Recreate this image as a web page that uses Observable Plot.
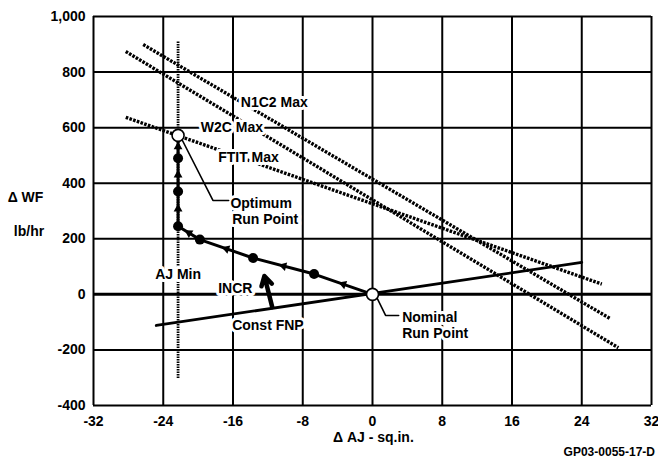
<!DOCTYPE html>
<html><head><meta charset="utf-8">
<script src="https://cdn.jsdelivr.net/npm/d3@7"></script>
<script src="https://cdn.jsdelivr.net/npm/@observablehq/plot@0.6"></script>
<style>
html,body{margin:0;padding:0;background:#fff;}
#chart{width:658px;height:460px;}
</style></head><body><div id="chart"></div>
<script>
// ---- data ----
const xTicks = [-32, -24, -16, -8, 0, 8, 16, 24, 32];
const yTicks = [-400, -200, 0, 200, 400, 600, 800, 1000];

// optimisation path, nominal -> optimum  (ΔAJ sq.in., ΔWF lb/hr)
const pathAJ = [0, -6.7, -13.7, -19.8, -22.3, -22.3, -22.3, -22.3];
const pathWF = [0, 73, 131, 197, 245, 370, 490, 572];

// limit lines (end points)
const limitNames = ["N1C2 Max", "W2C Max", "FTIT Max"];
const limitAJ = [[-26.3, 27.3], [-28.3, 28.2], [-28.3, 26.3]];
const limitWF = [[899, -88], [874, -192], [637, 37]];

// constant FNP line
const fnpAJ = [-24.8, 24];
const fnpWF = [-112, 115];

// AJ minimum line
const ajMinAJ = [-22.3, -22.3];
const ajMinWF = [910, -305];

// INCR arrow
const incrAJ = [-11.5, -12.4];
const incrWF = [-46, 66];

// annotation texts and anchors (data units)
const noteText = ["N1C2 Max", "W2C Max", "FTIT Max", "Optimum", "Run Point", "INCR", "Const FNP", "Nominal", "Run Point"];
const noteAJ   = [-15.1, -19.7, -17.7, -16.3, -16.1, -17.7, -16.1, 3.4, 3.4];
const noteWF   = [690, 600, 493, 327, 269, 20, -112, -83, -141];
const ajMinLabel = {text: "AJ Min", x: -22.3, y: 71};

// leader lines
const optLeaderAJ = [-21.9, -18.3, -16.5];
const optLeaderWF = [560, 338, 338];
const nomLeaderAJ = [0.5, 1.5, 3.0];
const nomLeaderWF = [-12, -76, -76];

const xTitle = "Δ AJ - sq.in.";
const yTitle1 = "Δ WF";
const yTitle2 = "lb/hr";
const caption = "GP03-0055-17-D";

// ---- derived tables ----
const path = pathAJ.map((x, i) => ({x, y: pathWF[i]}));
const W = 658, H = 460, ML = 93, MR = 7, MT = 16, MB = 55;
const kx = (W - ML - MR) / 64, ky = (H - MT - MB) / 1400;
const mids = path.slice(1).map((p, i) => {
  const a = path[i];
  const dx = p.x - a.x, dy = p.y - a.y;
  return {x: (a.x + p.x) / 2, y: (a.y + p.y) / 2,
          angle: Math.atan2(dx * kx, dy * ky) * 180 / Math.PI};
});
const limits = limitNames.flatMap((n, i) => [0, 1].map(j => ({name: n, x: limitAJ[i][j], y: limitWF[i][j]})));
const fnp = fnpAJ.map((x, i) => ({x, y: fnpWF[i]}));
const ajMin = ajMinAJ.map((x, i) => ({x, y: ajMinWF[i]}));
const notes = noteText.map((t, i) => ({text: t, x: noteAJ[i], y: noteWF[i]}));
const optLeader = optLeaderAJ.map((x, i) => ({x, y: optLeaderWF[i]}));
const nomLeader = nomLeaderAJ.map((x, i) => ({x, y: nomLeaderWF[i]}));

const plot = Plot.plot({
  width: W, height: H,
  marginLeft: ML, marginRight: MR, marginTop: MT, marginBottom: MB,
  style: {fontFamily: "'Liberation Sans', Arial, sans-serif", fontSize: "14px", fontWeight: "bold", color: "black", background: "white", overflow: "visible"},
  x: {domain: [-32, 32], ticks: xTicks, tickFormat: d => String(d), tickSize: 0, tickPadding: 11, label: null},
  y: {domain: [-400, 1000], ticks: yTicks, tickFormat: d => d.toLocaleString("en-US"), tickSize: 0, tickPadding: 8, label: null},
  marks: [
    Plot.ruleX(xTicks, {stroke: "black", strokeWidth: 2}),
    Plot.ruleY(yTicks, {stroke: "black", strokeWidth: d => d === 0 ? 3 : 2}),
    Plot.line(limits, {x: "x", y: "y", z: "name", stroke: "black", strokeWidth: 3.4, strokeDasharray: "2.6,1.3", strokeLinecap: "butt"}),
    Plot.line(ajMin, {x: "x", y: "y", stroke: "black", strokeWidth: 2.8, strokeDasharray: "1.6,0.9", strokeLinecap: "butt"}),
    Plot.line(fnp, {x: "x", y: "y", stroke: "black", strokeWidth: 2.8}),
    Plot.text(notes, {x: "x", y: "y", text: "text", textAnchor: "start", fill: "black", stroke: "white", strokeWidth: 6, fontSize: 14, fontWeight: "bold"}),
    Plot.text([ajMinLabel], {x: "x", y: "y", text: "text", textAnchor: "middle", fill: "black", stroke: "white", strokeWidth: 6, fontSize: 14, fontWeight: "bold"}),
    Plot.line(optLeader, {x: "x", y: "y", stroke: "black", strokeWidth: 1.6}),
    Plot.line(nomLeader, {x: "x", y: "y", stroke: "black", strokeWidth: 1.6}),
    Plot.line(path, {x: "x", y: "y", stroke: "black", strokeWidth: 3}),
    Plot.dot(mids, {x: "x", y: "y", symbol: "triangle2", r: 4.2, rotate: "angle", fill: "black"}),
    Plot.dot(path.slice(1, -1), {x: "x", y: "y", r: 5, fill: "black"}),
    Plot.dot([path[0], path[path.length - 1]], {x: "x", y: "y", r: 6, fill: "white", stroke: "black", strokeWidth: 1.6}),
    Plot.arrow([0], {x1: () => incrAJ[0], y1: () => incrWF[0], x2: () => incrAJ[1], y2: () => incrWF[1], stroke: "black", strokeWidth: 4.5, headLength: 9}),
    Plot.text([yTitle1], {x: -39.8, y: 350, text: d => d, textAnchor: "middle", fontSize: 14, fontWeight: "bold"}),
    Plot.text([yTitle2], {x: -39.4, y: 225, text: d => d, textAnchor: "middle", fontSize: 14, fontWeight: "bold"}),
    Plot.text([xTitle], {x: 0.1, y: -517, text: d => d, textAnchor: "middle", fontSize: 14, fontWeight: "bold"}),
    Plot.text([caption], {x: 32.4, y: -568, text: d => d, textAnchor: "end", fontSize: 12, fontWeight: "bold"})
  ]
});
document.getElementById("chart").appendChild(plot);
</script>
</body></html>
